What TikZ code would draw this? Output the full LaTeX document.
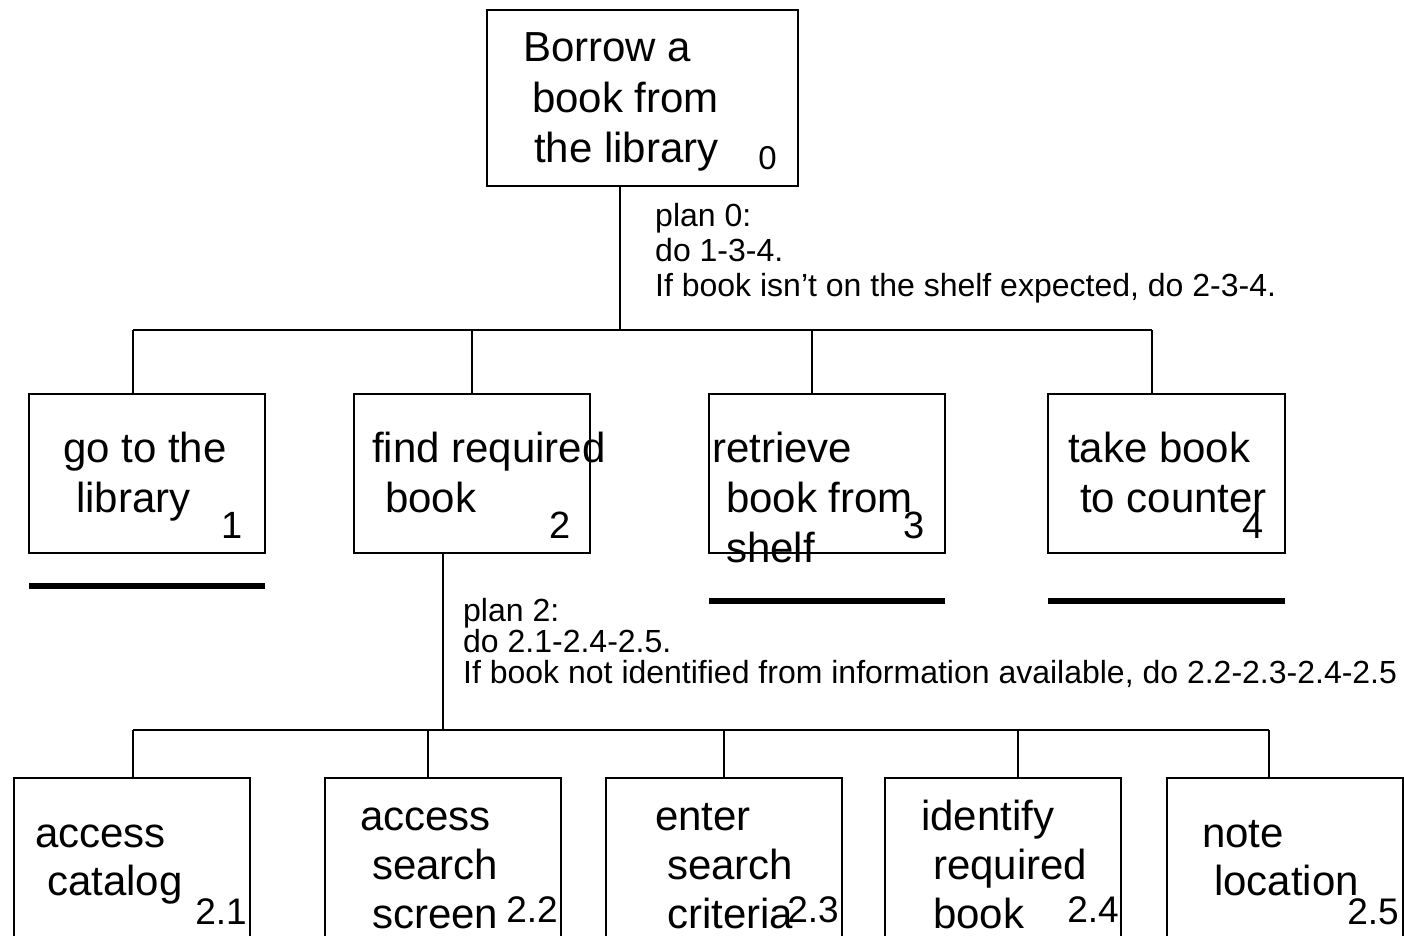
\documentclass[tikz,border=0pt]{standalone}
\usepackage{fontspec}
\setmainfont{Liberation Sans}
\begin{document}
\begin{tikzpicture}[x=1pt,y=-1pt,
  box/.style={draw, line width=2.4pt, inner sep=0pt, outer sep=0pt, anchor=north west, minimum width=236pt, minimum height=159pt},
  lowbox/.style={box, minimum height=200pt},
  conn/.style={line width=2.4pt},
  bar/.style={line width=6pt},
  txt/.style={anchor=base west, inner sep=0pt, font=\fontsize{42}{50}\selectfont},
  num/.style={anchor=base east, inner sep=0pt, font=\fontsize{38}{42}\selectfont},
  subnum/.style={anchor=base east, inner sep=0pt, font=\fontsize{37}{42}\selectfont},
  plan/.style={anchor=base west, inner sep=0pt, font=\fontsize{32}{36}\selectfont}]
\useasboundingbox (0,0) rectangle (1404,936);
\clip (0,0) rectangle (1404,936);
% boxes
\node[box, minimum width=311pt, minimum height=176pt] (b0) at (487,10) {};
\node[box] (b1) at (29,394) {};
\node[box] (b2) at (354,394) {};
\node[box] (b3) at (709,394) {};
\node[box, minimum width=237pt] (b4) at (1048,394) {};
\node[lowbox] (b21) at (14,778) {};
\node[lowbox] (b22) at (325,778) {};
\node[lowbox] (b23) at (606,778) {};
\node[lowbox] (b24) at (885,778) {};
\node[lowbox] (b25) at (1167,778) {};
% junctions
\coordinate (j0) at (620,330);
\coordinate (t1) at (133,330);
\coordinate (t2) at (472,330);
\coordinate (t3) at (812,330);
\coordinate (t4) at (1152,330);
\coordinate (j2) at (443,730);
\coordinate (u1) at (133,730);
\coordinate (u2) at (428,730);
\coordinate (u3) at (724,730);
\coordinate (u4) at (1018,730);
\coordinate (u5) at (1269,730);
% connectors
\draw[conn] (b0.south -| j0) -- (j0);
\draw[conn] (t1) -- (t4);
\foreach \i in {1,2,3,4} \draw[conn] (t\i) -- (t\i |- b\i.north);
\draw[conn] (b2.south -| j2) -- (j2);
\draw[conn] (u1) -- (u5);
\draw[conn] (u1) -- (u1 |- b21.north);
\draw[conn] (u2) -- (u2 |- b22.north);
\draw[conn] (u3) -- (u3 |- b23.north);
\draw[conn] (u4) -- (u4 |- b24.north);
\draw[conn] (u5) -- (u5 |- b25.north);
% underbars
\draw[bar] ([yshift=-33pt]b1.south west) -- ([yshift=-33pt]b1.south east);
\draw[bar] ([yshift=-48pt]b3.south west) -- ([yshift=-48pt]b3.south east);
\draw[bar] ([yshift=-48pt]b4.south west) -- ([yshift=-48pt]b4.south east);
% top box text
\node[txt] (l0a) at (523,62) {Borrow a};
\node[txt] (l0b) at (532,113) {book from};
\node[txt] (l0c) at (534,163) {the library};
\node[num, font=\fontsize{33}{38}\selectfont] (n0) at (777,170) {0};
% plans
\node[plan] (p0a) at (655,226) {plan 0:};
\node[plan] (p0b) at (655,261) {do 1-3-4.};
\node[plan] (p0c) at (655,296) {If book isn’t on the shelf expected, do 2-3-4.};
\node[plan] (p2a) at (463,621) {plan 2:};
\node[plan] (p2b) at (463,652) {do 2.1-2.4-2.5.};
\node[plan] (p2c) at (463,683) {If book not identified from information available, do 2.2-2.3-2.4-2.5};
% level 1 text
\node[txt] (l1a) at (63,462) {go to the};
\node[txt] (l1b) at (76,512) {library};
\node[num] (n1) at (243,538) {1};
\node[txt] (l2a) at (372,462) {find required};
\node[txt] (l2b) at (385,512) {book};
\node[num] (n2) at (571,538) {2};
\node[txt] (l3a) at (712,462) {retrieve};
\node[txt] (l3b) at (726,512) {book from};
\node[txt] (l3c) at (726,562) {shelf};
\node[num] (n3) at (925,538) {3};
\node[txt] (l4a) at (1068,462) {take book};
\node[txt] (l4b) at (1080,512) {to counter};
\node[num] (n4) at (1264,538) {4};
% level 2 text
\node[txt] (m1a) at (35,847) {access};
\node[txt] (m1b) at (47,895) {catalog};
\node[subnum] (k1) at (247,924) {2.1};
\node[txt] (m2a) at (360,830) {access};
\node[txt] (m2b) at (372,879) {search};
\node[txt] (m2c) at (372,928) {screen};
\node[subnum] (k2) at (558,922) {2.2};
\node[txt] (m3a) at (655,830) {enter};
\node[txt] (m3b) at (667,879) {search};
\node[txt] (m3c) at (667,928) {criteria};
\node[subnum] (k3) at (839,922) {2.3};
\node[txt] (m4a) at (921,830) {identify};
\node[txt] (m4b) at (933,879) {required};
\node[txt] (m4c) at (933,928) {book};
\node[subnum] (k4) at (1119,922) {2.4};
\node[txt] (m5a) at (1202,847) {note};
\node[txt] (m5b) at (1214,895) {location};
\node[subnum] (k5) at (1399,924) {2.5};
\end{tikzpicture}
\end{document}
